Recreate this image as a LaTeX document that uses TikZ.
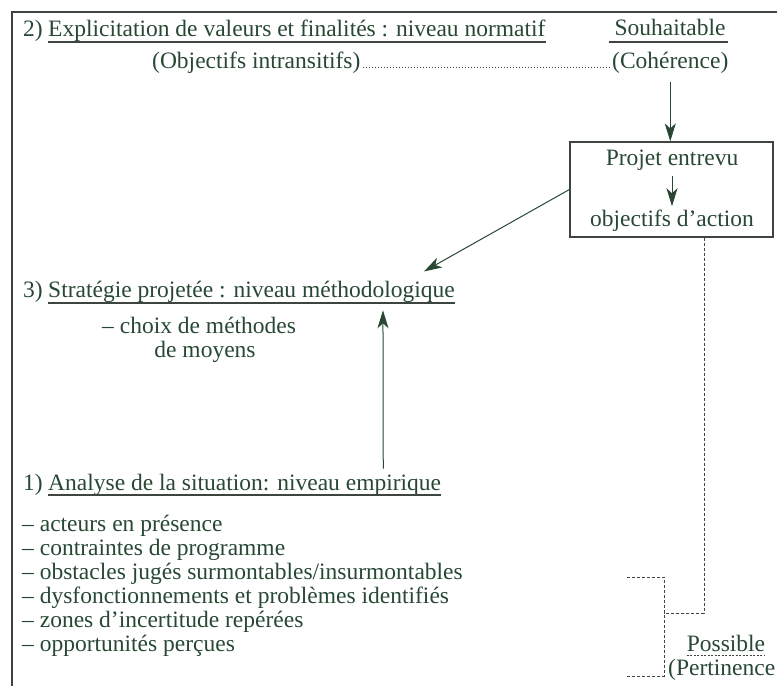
\documentclass[tikz,border=0pt]{standalone}
\usepackage{fontspec}
\setmainfont{Liberation Serif}
\usetikzlibrary{arrows.meta}
\definecolor{encre}{RGB}{40,72,52}
\definecolor{trait}{RGB}{62,68,62}

\begin{document}
\begin{tikzpicture}[x=1pt,y=-1pt,
  every node/.style={inner sep=0pt,text=encre,font=\fontsize{23.5}{24}\selectfont},
  txt/.style={anchor=base west},
  fleche/.style={draw=encre,line width=1pt,-{Stealth[length=18pt,width=11pt,inset=5pt]}},
  souligne/.style={draw=trait,line width=1.3pt},
  tirets/.style={draw=trait,line width=0.9pt,dash pattern=on 3pt off 2pt}]
\useasboundingbox (0,0) rectangle (777,686);
\draw[trait,line width=1.4pt] (777,12) -- (12,12) -- (12,686);
% niveau normatif
\node[txt] (n2) at (23,36) {2)};
\node[txt] (t2) at (48,36) {Explicitation de valeurs et finalités : niveau normatif};
\node[anchor=base] (souh) at (670,35) {Souhaitable};
\node[txt] (obj) at (152,68) {(Objectifs intransitifs)};
\node[txt] (coh) at (612,68) {(Cohérence)};
\draw[souligne] ([yshift=-6pt]t2.base west) -- ([yshift=-6pt]t2.base east);
\draw[souligne] ([xshift=-5pt,yshift=-7pt]souh.base west) -- ([xshift=2pt,yshift=-7pt]souh.base east);
\draw[trait,line width=0.8pt,dash pattern=on 1.5pt off 1.5pt] ([xshift=2pt,yshift=1pt]obj.base east) -- ([xshift=-2pt,yshift=1pt]coh.base west);
% projet
\node[draw=trait,line width=1.2pt,minimum width=203pt,minimum height=95pt] (projet) at (671.5,189.5) {};
\node[anchor=base] (pe) at (672,165) {Projet entrevu};
\node[anchor=base] (oa) at (672,226) {objectifs d’action};
\draw[fleche,shorten <=9pt] (coh.south) -- (coh.south |- projet.north);
\draw[fleche,shorten <=6pt,shorten >=3pt] (pe.south) -- (oa.north);
% niveau methodologique
\node[txt] (n3) at (23,297) {3)};
\node[txt] (t3) at (48,297) {Stratégie projetée : niveau méthodologique};
\draw[souligne] ([yshift=-6pt]t3.base west) -- ([yshift=-6pt]t3.base east);
\node[txt] (choix) at (102,333) {– choix de méthodes};
\node[anchor=base] (moy) at (205,357) {de moyens};
\draw[fleche] (projet.west) -- ([xshift=-31pt,yshift=9pt]t3.north east);
% niveau empirique
\node[txt] (n1) at (23,490) {1)};
\node[txt] (t1) at (48,490) {Analyse de la situation: niveau empirique};
\draw[souligne] ([yshift=-5pt]t1.base west) -- ([yshift=-5pt]t1.base east);
\draw[fleche] ([xshift=-58pt,yshift=5pt]t1.north east) -- ([xshift=-72pt,yshift=-8pt]t3.south east);
\foreach \t [count=\i] in {acteurs en présence, contraintes de programme, obstacles jugés surmontables/insurmontables, dysfonctionnements et problèmes identifiés, zones d’incertitude repérées, opportunités perçues}
  \node[txt] (l\i) at (22,507+24*\i) {– \t};
% possible
\node[anchor=base] (poss) at (726,651) {Possible};
\node[txt] (pert) at (668,675) {(Pertinence};
\draw[tirets,dash pattern=on 2pt off 1.5pt] ([yshift=-4pt]poss.base west) -- ([yshift=-4pt]poss.base east);
\coordinate (crh) at (627,577);
\coordinate (crb) at (627,676);
\coordinate (crm) at (664,613);
\draw[tirets] ([xshift=32.5pt]projet.south) |- (crm);
\draw[tirets] (crh) -| (crb -| crm) -- (crb);
\end{tikzpicture}
\end{document}
